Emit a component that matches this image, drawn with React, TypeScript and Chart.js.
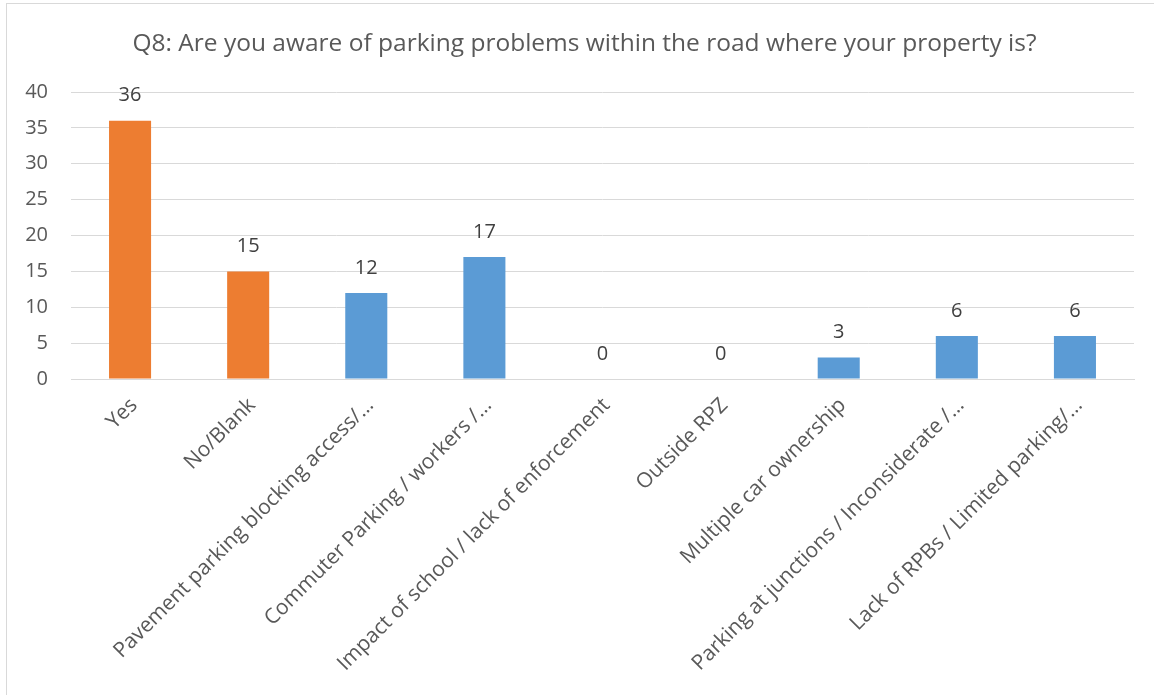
import React, { useEffect, useRef } from "react";
import { Chart, registerables } from "chart.js";

Chart.register(...registerables);

const titleText = "Q8: Are you aware of parking problems within the road where your property is?";
const categories = [
  "Yes",
  "No/Blank",
  "Pavement parking blocking access/…",
  "Commuter Parking / workers /…",
  "Impact of school / lack of enforcement",
  "Outside RPZ",
  "Multiple car ownership",
  "Parking at junctions / Inconsiderate /…",
  "Lack of RPBs / Limited parking/…",
];
const values = [36, 15, 12, 17, 0, 0, 3, 6, 6];
const barColors = ["#ED7D31", "#ED7D31", "#5B9BD5", "#5B9BD5", "#5B9BD5", "#5B9BD5", "#5B9BD5", "#5B9BD5", "#5B9BD5"];
const yTicks = [0, 5, 10, 15, 20, 25, 30, 35, 40];

const FONT = "'Open Sans', sans-serif";

const dataLabelPlugin = {
  id: "dataLabels",
  afterDatasetsDraw(chart: any) {
    const ctx = chart.ctx;
    const meta = chart.getDatasetMeta(0);
    ctx.save();
    ctx.fillStyle = "#404040";
    ctx.font = `20px ${FONT}`;
    ctx.textAlign = "center";
    ctx.textBaseline = "middle";
    meta.data.forEach((el: any, i: number) => {
      ctx.fillText(String(values[i]), el.x, el.y - 25);
    });
    ctx.restore();
  },
};

const centeredTitlePlugin = {
  id: "centeredTitle",
  afterDraw(chart: any) {
    const ctx = chart.ctx;
    ctx.save();
    ctx.fillStyle = "#595959";
    ctx.font = `24.5px ${FONT}`;
    ctx.textAlign = "center";
    ctx.textBaseline = "middle";
    ctx.fillText(titleText, chart.width / 2, 40);
    ctx.restore();
  },
};

export default function App() {
  const ref = useRef<HTMLCanvasElement | null>(null);
  useEffect(() => {
    document.body.style.margin = "0";
    document.body.style.overflow = "hidden";
    const chart = new Chart(ref.current as HTMLCanvasElement, {
      type: "bar",
      data: {
        labels: categories,
        datasets: [
          {
            data: values,
            backgroundColor: barColors,
            categoryPercentage: 1,
            barPercentage: 0.356,
          },
        ],
      },
      options: {
        animation: false,
        responsive: false,
        maintainAspectRatio: false,
        layout: { padding: { left: 0, right: 28, top: 88, bottom: 0 } },
        plugins: {
          legend: { display: false },
          tooltip: { enabled: false },
          title: { display: false },
        },
        scales: {
          x: {
            grid: { display: false, drawTicks: false },
            border: { display: true, color: "#D9D9D9", width: 1 },
            ticks: {
              color: "#595959",
              font: { family: FONT, size: 21 },
              minRotation: 45,
              maxRotation: 45,
              autoSkip: false,
              padding: 14,
              labelOffset: 4,
            },
            afterFit: (s: any) => {
              s.height = 316;
            },
          },
          y: {
            min: 0,
            max: 40,
            afterBuildTicks: (s: any) => {
              s.ticks = yTicks.map((v) => ({ value: v }));
            },
            grid: { color: "#D9D9D9", lineWidth: 1, drawTicks: false },
            border: { display: false },
            ticks: {
              color: "#595959",
              font: { family: FONT, size: 20 },
              padding: 23,
            },
            afterFit: (s: any) => {
              s.width = 64;
            },
          },
        },
      },
      plugins: [dataLabelPlugin, centeredTitlePlugin],
    });
    return () => chart.destroy();
  }, []);
  return (
    <div
      style={{
        position: "absolute",
        left: 6,
        top: 3,
        width: 1160,
        height: 700,
        border: "1px solid #D9D9D9",
        background: "#fff",
        overflow: "hidden",
      }}
    >
      <canvas ref={ref} width={1155} height={691} style={{ display: "block" }} />
    </div>
  );
}
